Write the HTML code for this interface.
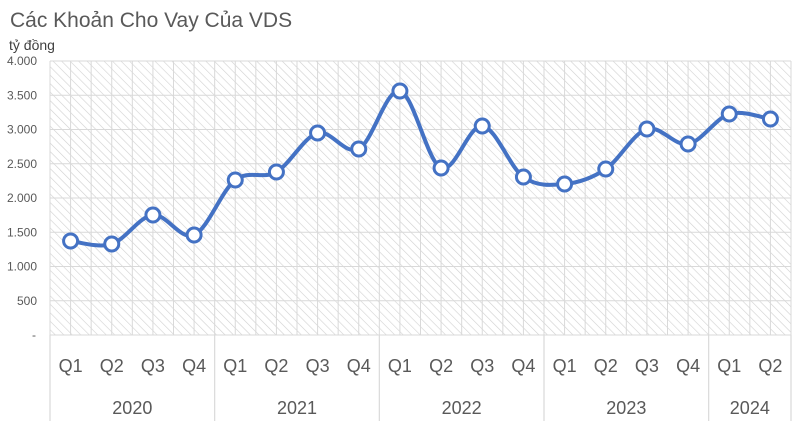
<!DOCTYPE html>
<html><head><meta charset="utf-8"><style>
body{margin:0;background:#fff;}
svg{display:block;font-family:"Liberation Sans","DejaVu Sans",sans-serif;}
</style></head><body>
<svg id="chart" width="800" height="423" viewBox="0 0 800 423" xmlns="http://www.w3.org/2000/svg">
<defs>
<pattern id="hatch" width="6" height="6" patternUnits="userSpaceOnUse" patternTransform="rotate(-45)">
<line x1="0" y1="0" x2="0" y2="6" stroke="#d0d0d0" stroke-width="1.2"/>
</pattern>
</defs>
<text x="10" y="27" font-size="21" fill="#595959">Các Khoản Cho Vay Của VDS</text>
<text x="9" y="50" font-size="14" fill="#404040">tỷ đồng</text>
<g id="plot"></g>
</svg>
<script>
const categories=["Q1","Q2","Q3","Q4","Q1","Q2","Q3","Q4","Q1","Q2","Q3","Q4","Q1","Q2","Q3","Q4","Q1","Q2"];
const years=["2020","2021","2022","2023","2024"];
const yearCounts=[4,4,4,4,2];
const values=[1372,1328,1752,1460,2263,2380,2949,2715,3562,2438,3051,2307,2204,2423,3007,2788,3226,3153];
const yTicks=[0,500,1000,1500,2000,2500,3000,3500,4000];
const yTickLabels=["-","500","1.000","1.500","2.000","2.500","3.000","3.500","4.000"];

const L=50,R=791,T=61,B=335,yMax=4000;
const NS="http://www.w3.org/2000/svg";
const g=document.getElementById('plot');
const step=(R-L)/categories.length;
const x=i=>L+step*(i+0.5);
const y=v=>B-(v/yMax)*(B-T);
function mk(t,a){const e=document.createElementNS(NS,t);for(const k in a)e.setAttribute(k,a[k]);g.appendChild(e);return e;}

let bg=mk('rect',{x:L,y:T,width:R-L,height:B-T,fill:'url(#hatch)'});


for(let i=0;i<=categories.length*2;i++){
  const xx=L+step*i/2;
  let l=mk('line',{x1:xx,y1:T,x2:xx,y2:B,stroke:'#d9d9d9','stroke-width':1});
  
  
}
yTicks.forEach((v,i)=>{
  let l=mk('line',{x1:L,y1:y(v),x2:R,y2:y(v),stroke:'#d9d9d9','stroke-width':1});
  
  
  let t=mk('text',{x:v===0?36:37,y:y(v)+4,'font-size':12,fill:'#595959','text-anchor':'end'});
  t.textContent=yTickLabels[i];
  
  
});
// category labels
categories.forEach((c,i)=>{
  let t=mk('text',{x:x(i),y:372,'font-size':18,fill:'#595959','text-anchor':'middle'});
  t.textContent=c;
  
  
});
let idx=0;
let s0=mk('line',{x1:L,y1:B,x2:L,y2:421,stroke:'#d9d9d9','stroke-width':1.2});


years.forEach((yr,k)=>{
  const x0=L+step*idx, x1=L+step*(idx+yearCounts[k]);
  let s=mk('line',{x1:x1,y1:B,x2:x1,y2:421,stroke:'#d9d9d9','stroke-width':1.2});
  
  
  let t=mk('text',{x:(x0+x1)/2,y:414,'font-size':18,fill:'#595959','text-anchor':'middle'});
  t.textContent=yr;
  
  
  idx+=yearCounts[k];
});
// smooth line
const pts=values.map((v,i)=>[x(i),y(v)]);
let d=`M${pts[0][0]},${pts[0][1]}`;
for(let i=0;i<pts.length-1;i++){
  const p0=pts[i-1]||pts[i],p1=pts[i],p2=pts[i+1],p3=pts[i+2]||pts[i+1];
  const c1=[p1[0]+(p2[0]-p0[0])/6,p1[1]+(p2[1]-p0[1])/6];
  const c2=[p2[0]-(p3[0]-p1[0])/6,p2[1]-(p3[1]-p1[1])/6];
  d+=` C${c1[0]},${c1[1]} ${c2[0]},${c2[1]} ${p2[0]},${p2[1]}`;
}
let line=mk('path',{d:d,fill:'none',stroke:'#4472C4','stroke-width':4,'stroke-linejoin':'round'});


pts.forEach(p=>{
  let c=mk('circle',{cx:p[0],cy:p[1],r:7,fill:'#fff',stroke:'#4472C4','stroke-width':3});
  
  
});
</script>
</body></html>
